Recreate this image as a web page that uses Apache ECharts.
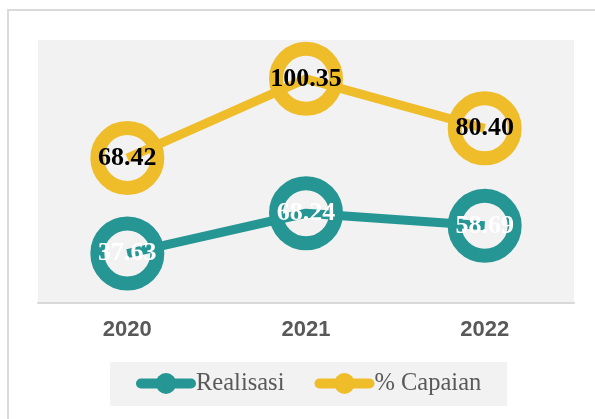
<!DOCTYPE html>
<html>
<head>
<meta charset="utf-8">
<script src="https://cdn.jsdelivr.net/npm/echarts@6/dist/echarts.min.js"></script>
<style>
  html, body { margin: 0; padding: 0; background: #fff; }
  #chart { width: 595px; height: 419px; }
</style>
</head>
<body>
<div id="chart"></div>
<script>
// data
const years = ['2020', '2021', '2022']
const realisasi = [37.63, 68.24, 58.69]
const capaian = [68.42, 100.35, 80.40]

const teal = '#259694'
const gold = '#EFBD2A'

const chart = echarts.init(document.getElementById('chart'))

const ringSeries = (name, data, color, labelColor, axisIndex) => ({
  name: name,
  type: 'line',
  yAxisIndex: axisIndex,
  data: data,
  symbol: 'circle',
  symbolSize: 60,
  showAllSymbol: true,
  lineStyle: { color: color, width: 9 },
  itemStyle: { color: 'transparent', borderColor: color, borderWidth: 14 },
  label: {
    show: true,
    position: 'inside',
    formatter: p => p.value.toFixed(2),
    fontFamily: 'Liberation Serif',
    fontWeight: 'bold',
    fontSize: 26,
    color: labelColor
  },
  emphasis: { disabled: true }
})

const option = {
  animation: false,
  backgroundColor: '#fff',
  graphic: [
    {
      type: 'rect',
      shape: { x: 8, y: 10, width: 620, height: 430 },
      style: { fill: 'none', stroke: '#dadada', lineWidth: 2 },
      silent: true
    }
  ],
  grid: {
    left: 38,
    right: 21,
    top: 40,
    bottom: 116,
    show: true,
    backgroundColor: '#f2f2f2',
    borderWidth: 0
  },
  legend: {
    left: 110,
    top: 362,
    backgroundColor: '#f2f2f2',
    padding: [9, 26, 10, 26],
    itemGap: 30,
    itemWidth: 50,
    itemHeight: 26,
    lineStyle: { width: 10, cap: 'round' },
    itemStyle: { borderWidth: 0 },
    textStyle: { fontFamily: 'Liberation Serif', fontSize: 24.5, color: '#595959' },
    data: [
      { name: 'Realisasi', itemStyle: { color: teal, borderWidth: 0 } },
      { name: '% Capaian', itemStyle: { color: gold, borderWidth: 0 } }
    ]
  },
  xAxis: {
    type: 'category',
    data: years,
    axisTick: { show: false },
    axisLine: { lineStyle: { color: '#d9d9d9', width: 2 } },
    axisLabel: {
      margin: 16,
      fontFamily: 'Liberation Sans',
      fontWeight: 'bold',
      fontSize: 22,
      color: '#595959'
    }
  },
  yAxis: [
    { type: 'value', min: 0, max: 200, show: false, splitLine: { show: false } },
    { type: 'value', min: 10, max: 116, show: false, splitLine: { show: false } }
  ],
  series: [
    ringSeries('Realisasi', realisasi, teal, '#ffffff', 0),
    ringSeries('% Capaian', capaian, gold, '#000000', 1)
  ]
}

chart.setOption(option)
</script>
</body>
</html>
